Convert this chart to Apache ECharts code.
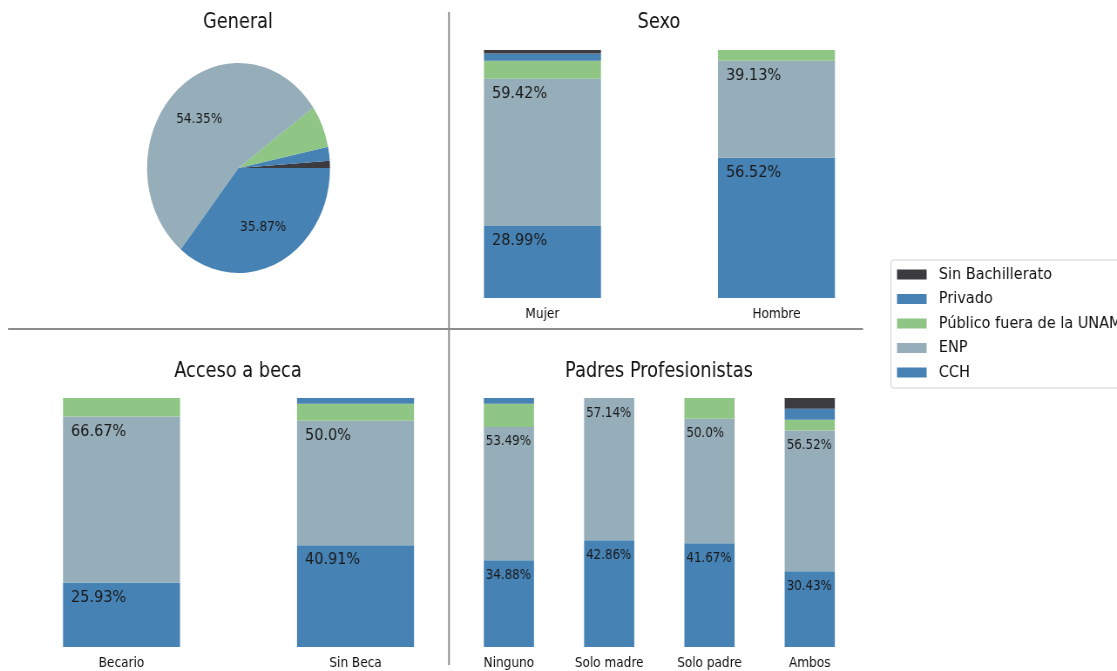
<!DOCTYPE html>
<html>
<head>
<meta charset="utf-8">
<script src="https://cdn.jsdelivr.net/npm/echarts@6/dist/echarts.min.js"></script>
<style>
html,body{margin:0;padding:0;background:#fff;overflow:hidden;width:1117px;height:671px;}
#main{position:absolute;left:0;top:0;width:1282px;height:671px;transform:scaleX(0.8713);transform-origin:0 0;}
</style>
</head>
<body>
<div id="main"></div>
<script>
// ---- data ----
const legendNames = ['Sin Bachillerato', 'Privado', 'Público fuera de la UNAM', 'ENP', 'CCH'];
const stackOrder = ['CCH', 'ENP', 'Público fuera de la UNAM', 'Privado', 'Sin Bachillerato'];

const generalNames = ['Sin Bachillerato', 'Privado', 'Público fuera de la UNAM', 'ENP', 'CCH'];
const generalValues = [1.09, 2.17, 6.52, 54.35, 35.87];

const sexoCats = ['Mujer', 'Hombre'];
const sexoCCH = [28.99, 56.52];
const sexoENP = [59.42, 39.13];
const sexoPublico = [7.25, 4.35];
const sexoPrivado = [2.90, 0];
const sexoSinBach = [1.44, 0];

const becaCats = ['Becario', 'Sin Beca'];
const becaCCH = [25.93, 40.91];
const becaENP = [66.67, 50.0];
const becaPublico = [7.40, 6.82];
const becaPrivado = [0, 2.27];
const becaSinBach = [0, 0];

const padresCats = ['Ninguno', 'Solo madre', 'Solo padre', 'Ambos'];
const padresCCH = [34.88, 42.86, 41.67, 30.43];
const padresENP = [53.49, 57.14, 50.0, 56.52];
const padresPublico = [9.30, 0, 8.33, 4.35];
const padresPrivado = [2.33, 0, 0, 4.35];
const padresSinBach = [0, 0, 0, 4.35];

// ---- styles ----
const FONT = 'DejaVu Sans';
const colors = {
  'CCH': '#4682b4',
  'ENP': '#95aeb9',
  'Público fuera de la UNAM': '#8fc686',
  'Privado': '#4682b4',
  'Sin Bachillerato': '#3b3b40'
};
const fmt = v => (Number.isInteger(v) ? v.toFixed(1) : String(v)) + '%';

const panels = [
  {cats: sexoCats, data: [sexoCCH, sexoENP, sexoPublico, sexoPrivado, sexoSinBach], lblSize: 16.6, lblPos: [9.2, 15]},
  {cats: becaCats, data: [becaCCH, becaENP, becaPublico, becaPrivado, becaSinBach], lblSize: 16.6, lblPos: [9.2, 15]},
  {cats: padresCats, data: [padresCCH, padresENP, padresPublico, padresPrivado, padresSinBach], lblSize: 13.6, lblPos: [2.3, 15]}
];
const grids = [
  {left: 488.3, width: 537.1, top: 50, height: 248},
  {left: 5.2, width: 537.1, top: 398, height: 249},
  {left: 526.5, width: 460.4, top: 398, height: 249}
];

const series = [];
panels.forEach((p, pi) => {
  stackOrder.forEach((name, si) => {
    const showLbl = si < 2;
    series.push({
      type: 'bar', name: name, stack: 's' + pi,
      xAxisIndex: pi, yAxisIndex: pi,
      barWidth: '50%',
      data: p.data[si],
      itemStyle: {color: colors[name]},
      label: {
        show: showLbl, position: p.lblPos, align: 'left', verticalAlign: 'middle',
        fontFamily: FONT, fontSize: p.lblSize, color: '#1a1a1a',
        formatter: prm => fmt(prm.value)
      },
      emphasis: {disabled: true}
    });
  });
});

series.push({
  type: 'pie', center: [273.7, 168], radius: 105,
  startAngle: 0, clockwise: false, avoidLabelOverlap: false,
  data: generalNames.map((n, i) => ({name: n, value: generalValues[i], itemStyle: {color: colors[n]}})),
  label: {show: false}, labelLine: {show: false},
  itemStyle: {borderWidth: 0}, emphasis: {disabled: true}, silent: true
});
series.push({
  type: 'pie', center: [273.7, 168], radius: 126,
  startAngle: 0, clockwise: false, avoidLabelOverlap: false,
  data: generalNames.map((n, i) => ({
    name: n + ' ', value: generalValues[i],
    itemStyle: {color: 'rgba(0,0,0,0)'},
    label: {show: n === 'ENP' || n === 'CCH'}
  })),
  label: {position: 'inside', fontFamily: FONT, fontSize: 13.9, color: '#1a1a1a', formatter: prm => fmt(prm.value)},
  labelLine: {show: false},
  itemStyle: {borderWidth: 0}, emphasis: {disabled: true}, silent: true
});

const titleStyle = {fontFamily: FONT, fontSize: 20.4, fontWeight: 'normal', color: '#111'};
const lineStyle = {stroke: '#8c8c8c', lineWidth: 2};

const main = echarts.init(document.getElementById('main'), null, {renderer: 'canvas'});
main.setOption({
  animation: false,
  backgroundColor: '#fff',
  title: [
    {text: 'General', left: 273.1, top: 13, padding: 0, textAlign: 'center', textStyle: titleStyle},
    {text: 'Sexo', left: 756.3, top: 13, padding: 0, textAlign: 'center', textStyle: titleStyle},
    {text: 'Acceso a beca', left: 273.1, top: 362, padding: 0, textAlign: 'center', textStyle: titleStyle},
    {text: 'Padres Profesionistas', left: 756.3, top: 362, padding: 0, textAlign: 'center', textStyle: titleStyle}
  ],
  legend: {
    data: legendNames, orient: 'vertical', left: 1022.5, top: 260,
    icon: 'rect', itemWidth: 34, itemHeight: 10, itemGap: 7.5,
    padding: [6, 8, 7, 7],
    borderColor: '#d4d4d4', borderWidth: 1, borderRadius: 3, backgroundColor: '#fff',
    textStyle: {fontFamily: FONT, fontSize: 16.6, color: '#111', lineHeight: 16, padding: [0, 0, 0, 9]},
    selectedMode: false
  },
  grid: grids,
  xAxis: panels.map((p, i) => ({
    type: 'category', gridIndex: i, data: p.cats,
    axisLine: {show: false}, axisTick: {show: false},
    axisLabel: {fontFamily: FONT, fontSize: 13.9, color: '#111', margin: 9, interval: 0}
  })),
  yAxis: panels.map((p, i) => ({
    type: 'value', gridIndex: i, min: 0, max: 100, show: false
  })),
  series: series,
  graphic: [
    {type: 'line', shape: {x1: 515.3, y1: 12, x2: 515.3, y2: 665}, style: lineStyle, silent: true},
    {type: 'line', shape: {x1: 9.2, y1: 329, x2: 990.4, y2: 329}, style: lineStyle, silent: true}
  ]
});
</script>
</body>
</html>
